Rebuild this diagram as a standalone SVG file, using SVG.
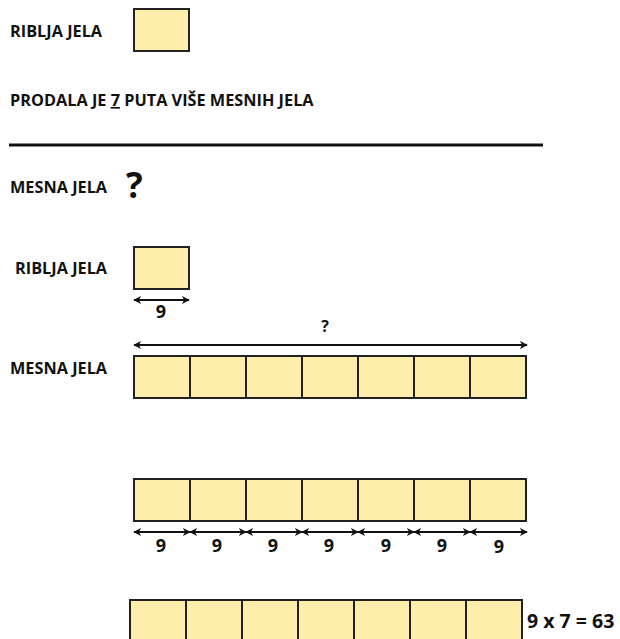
<svg xmlns="http://www.w3.org/2000/svg" width="620" height="639" viewBox="0 0 620 639">
<style>
text{font-family:"Open Sans","Noto Sans","Liberation Sans",sans-serif;font-weight:700;fill:#111}
.lbl{font-size:16.3px}
.num{font-size:18px}
.box{fill:#fdeeab;stroke:#222;stroke-width:2}
.arr{stroke:#111;stroke-width:2;fill:none;marker-start:url(#ah);marker-end:url(#ah)}
</style>
<defs>
<marker id="ah" viewBox="0 0 10 10" refX="9" refY="5" markerWidth="8" markerHeight="8" orient="auto-start-reverse" markerUnits="userSpaceOnUse">
<path d="M0,0 L10,5 L0,10 L3,5 z" fill="#111"/>
</marker>
</defs>
<rect width="620" height="639" fill="#fff"/>

<g id="riblja1">
<text class="lbl" x="10" y="37">RIBLJA JELA</text>
<rect class="box" x="134" y="9" width="55" height="42"/>
</g>
<g id="prodala">
<text class="lbl" x="10" y="106">PRODALA JE <tspan text-decoration="underline">7</tspan> PUTA VIŠE MESNIH JELA</text>
</g>
<g id="divider"><line x1="9" y1="145" x2="543" y2="145" stroke="#111" stroke-width="3"/></g>
<g id="mesna1">
<text class="lbl" x="10" y="193">MESNA JELA</text>
<text x="126" y="198" font-size="35px">?</text>
</g>

<g id="riblja2">
<text class="lbl" x="15" y="274">RIBLJA JELA</text>
<rect class="box" x="134" y="247" width="55" height="42"/>
</g>
<g id="mesna2">
<text class="lbl" x="10" y="374">MESNA JELA</text>
<rect class="box" x="134" y="356" width="56" height="42"/>
<rect class="box" x="190" y="356" width="56" height="42"/>
<rect class="box" x="246" y="356" width="56" height="42"/>
<rect class="box" x="302" y="356" width="56" height="42"/>
<rect class="box" x="358" y="356" width="56" height="42"/>
<rect class="box" x="414" y="356" width="56" height="42"/>
<rect class="box" x="470" y="356" width="56" height="42"/>
</g>
<g id="row3">
<rect class="box" x="134" y="479" width="56" height="42"/>
<rect class="box" x="190" y="479" width="56" height="42"/>
<rect class="box" x="246" y="479" width="56" height="42"/>
<rect class="box" x="302" y="479" width="56" height="42"/>
<rect class="box" x="358" y="479" width="56" height="42"/>
<rect class="box" x="414" y="479" width="56" height="42"/>
<rect class="box" x="470" y="479" width="56" height="42"/>
</g>
<g id="row4">
<rect class="box" x="130" y="600" width="56" height="42"/>
<rect class="box" x="186" y="600" width="56" height="42"/>
<rect class="box" x="242" y="600" width="56" height="42"/>
<rect class="box" x="298" y="600" width="56" height="42"/>
<rect class="box" x="354" y="600" width="56" height="42"/>
<rect class="box" x="410" y="600" width="56" height="42"/>
<rect class="box" x="466" y="600" width="56" height="42"/>
<text x="527" y="628" font-size="19.5px">9 x 7 = 63</text>
</g>

<g id="connectors">
<line class="arr" x1="134" y1="300" x2="189" y2="300"/>
<line class="arr" x1="134" y1="345" x2="527" y2="345"/>
<line class="arr" x1="134" y1="532" x2="190" y2="532"/>
<line class="arr" x1="190" y1="532" x2="246" y2="532"/>
<line class="arr" x1="246" y1="532" x2="302" y2="532"/>
<line class="arr" x1="302" y1="532" x2="358" y2="532"/>
<line class="arr" x1="358" y1="532" x2="414" y2="532"/>
<line class="arr" x1="414" y1="532" x2="470" y2="532"/>
<line class="arr" x1="470" y1="532" x2="527" y2="532"/>
</g>
<g id="labels">
<text class="num" x="161" y="318" text-anchor="middle">9</text>
<text x="325" y="332" font-size="16px" text-anchor="middle">?</text>
<text class="num" x="161" y="552" text-anchor="middle">9</text>
<text class="num" x="217" y="552" text-anchor="middle">9</text>
<text class="num" x="273" y="552" text-anchor="middle">9</text>
<text class="num" x="329" y="552" text-anchor="middle">9</text>
<text class="num" x="386" y="552" text-anchor="middle">9</text>
<text class="num" x="442" y="552" text-anchor="middle">9</text>
<text class="num" x="499" y="553" text-anchor="middle">9</text>
</g>
</svg>
